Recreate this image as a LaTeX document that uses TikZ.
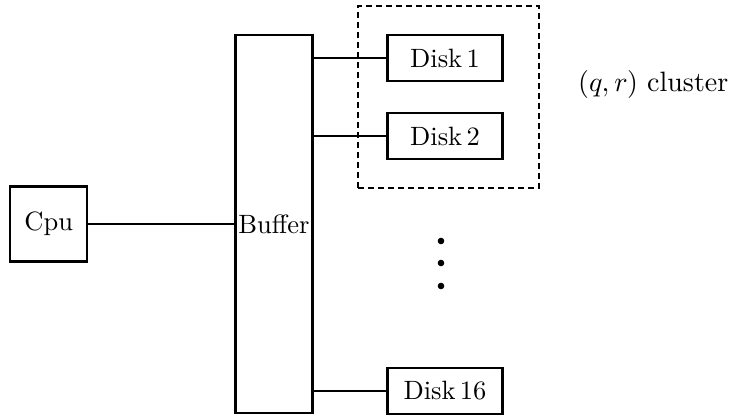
\documentclass[tikz,border=0pt]{standalone}
\usetikzlibrary{positioning}

% roman and math italic at the 10pt design size, blown up
\font\lmbig="[lmroman10-regular]:+tlig;" at 26.5pt
\font\lmlab="[lmroman10-regular]:+tlig;" at 28pt
\font\lmilab=cmmi10 at 28pt
\newcommand\qrpair{(\lmilab q\char59\lmlab\kern5pt\lmilab r\lmlab)}

\tikzset{
  basic/.style  = {draw, rectangle, line width=2.2pt, inner sep=0pt},
  unit/.style   = {basic, minimum width=77pt, minimum height=75pt},
  buffer/.style = {basic, minimum width=77pt, minimum height=378pt},
  disk/.style   = {basic, minimum width=115pt, minimum height=46pt},
  cluster/.style = {draw, dashed, line width=1.5pt, dash pattern=on 6pt off 4pt,
                    minimum width=181pt, minimum height=182pt},
  link/.style   = {line width=1.6pt}
}

\begin{document}
\begin{tikzpicture}[x=1pt, y=-1pt,
  every node/.append style={font=\lmbig}]

\useasboundingbox (0,0) rectangle (735,417);

% buffer in the middle, cpu to its left
\node[buffer] (buf) at (274,224) {Buffer};
\node[unit, left=146pt of buf] (cpu) {Cpu};

% the disks
\node[disk] (d1) at (445,58) {Disk\,1};
\node[disk, below=30pt of d1] (d2) {Disk\,2};
\node[disk] (d16) at (445,391) {Disk\,16};

% dashed group round the first two disks
\node[cluster] (cl) at (448.5,97) {};
\node[anchor=base west, inner sep=0pt, font=\lmlab] (cllabel) at (578,92)
  {\qrpair{} cluster};

\foreach \y in {241,263,286}
  \fill (441,\y) circle (3.3pt);

\draw[link] (cpu.east) -- (buf.west |- cpu.east);

\foreach \value in {1,2,16}
  \draw[link] (buf.east |- d\value.west) -- (d\value.west);

\end{tikzpicture}
\end{document}
